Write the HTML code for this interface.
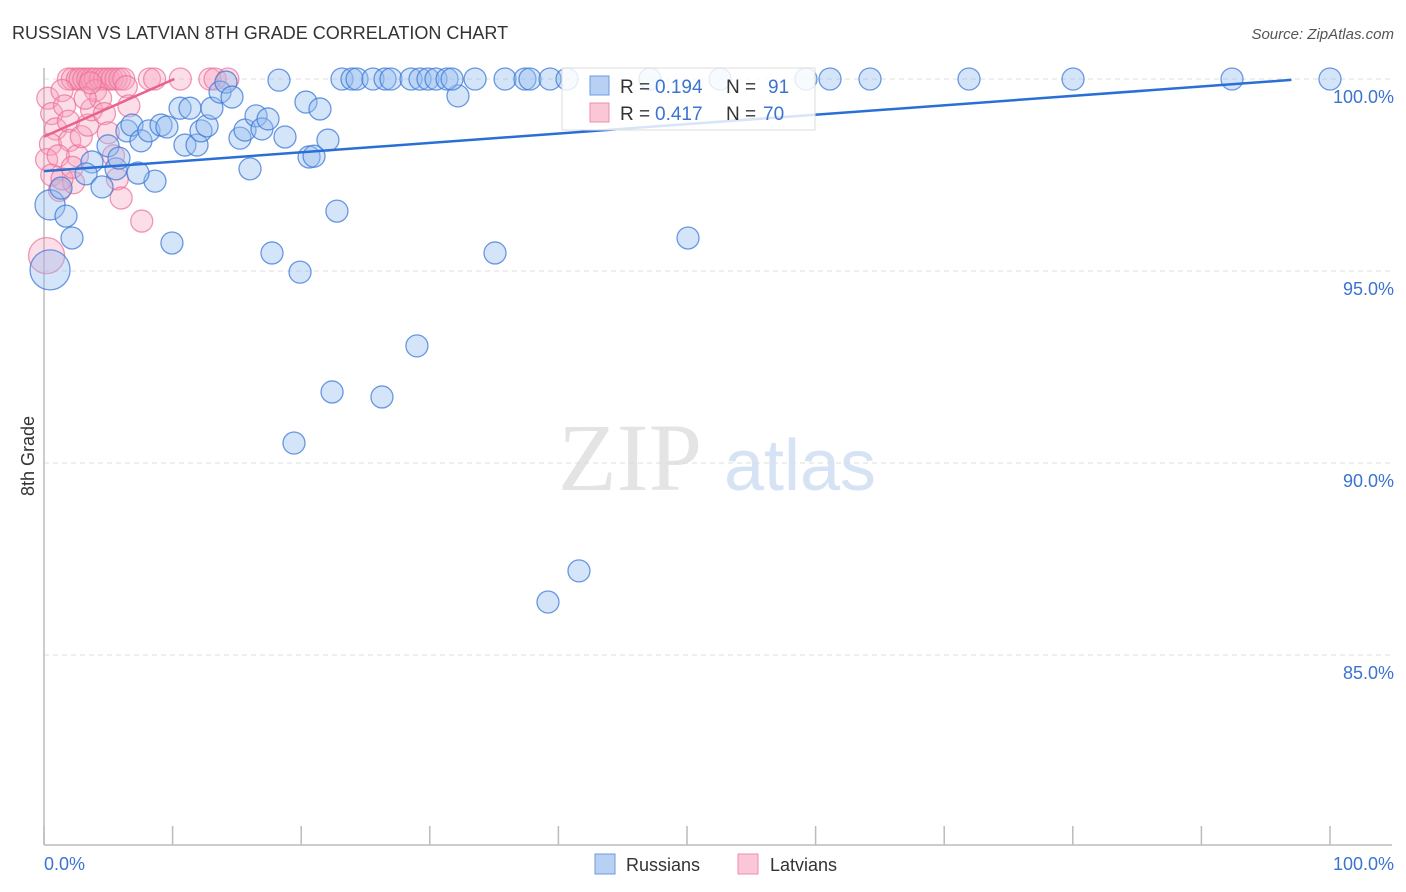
<!DOCTYPE html>
<html><head><meta charset="utf-8"><style>
body{margin:0;background:#fff;font-family:"Liberation Sans",sans-serif;}
svg{display:block}
</style></head><body>
<svg width="1406" height="892" id="chart">
<text x="12" y="39" font-size="18" fill="#333">RUSSIAN VS LATVIAN 8TH GRADE CORRELATION CHART</text>
<text x="1394" y="39" font-size="15" fill="#555" font-style="italic" text-anchor="end">Source: ZipAtlas.com</text>
<text x="630" y="490" font-size="96" fill="#e4e4e4" font-family="Liberation Serif,serif" text-anchor="middle">ZIP</text>
<text x="800" y="490" font-size="72" fill="#d6e3f5" text-anchor="middle">atlas</text>
<text x="34" y="456" font-size="18" fill="#333" transform="rotate(-90 34 456)" text-anchor="middle">8th Grade</text>
<g id="grid"></g>
<line x1="44" y1="68" x2="44" y2="845" stroke="#bbb" stroke-width="1.5"/>
<line x1="44" y1="845" x2="1392" y2="845" stroke="#bbb" stroke-width="1.5"/>
<g id="pts"></g>
<g id="lines"></g>
<text x="44" y="870" font-size="18" fill="#3b73d1">0.0%</text>
<text x="1394" y="870" font-size="18" fill="#3b73d1" text-anchor="end">100.0%</text>
<g>
<rect x="562" y="68" width="253" height="62" fill="#fff" fill-opacity="0.82" stroke="#ddd"/>
<rect x="590" y="76" width="19" height="19" fill="#b7d0f3" stroke="#6a9be0"/>
<rect x="590" y="103" width="19" height="19" fill="#fbc6d6" stroke="#ee8fae"/>
<text x="620" y="93" font-size="19" fill="#333">R =</text>
<text x="655" y="93" font-size="19" fill="#3b73d1">0.194</text>
<text x="726" y="93" font-size="19" fill="#333">N =</text>
<text x="768" y="93" font-size="19" fill="#3b73d1">91</text>
<text x="620" y="120" font-size="19" fill="#333">R =</text>
<text x="655" y="120" font-size="19" fill="#3b73d1">0.417</text>
<text x="726" y="120" font-size="19" fill="#333">N =</text>
<text x="763" y="120" font-size="19" fill="#3b73d1">70</text>
</g>
<g>
<rect x="595" y="854" width="20" height="20" fill="#b7d0f3" stroke="#6a9be0"/>
<text x="626" y="871" font-size="18" fill="#333">Russians</text>
<rect x="738" y="854" width="20" height="20" fill="#fbc6d6" stroke="#ee8fae"/>
<text x="770" y="871" font-size="18" fill="#333">Latvians</text>
</g>
</svg>
<script>
const yTicks=[100,95,90,85];
const xTickVals=[0,10,20,30,40,50,60,70,80,90,100];
const blueX=[0.47,0.47,1.71,2.18,1.32,3.73,3.27,4.51,4.98,5.6,5.83,6.45,6.84,7.54,8.16,8.63,7.31,9.1,9.56,9.95,10.58,10.96,11.35,11.9,12.21,12.68,13.06,13.69,14.15,14.62,15.24,15.63,16.02,16.49,16.95,17.42,17.73,18.27,18.74,19.91,20.37,20.61,21.0,21.46,22.08,22.78,19.44,22.4,26.28,29.0,32.19,35.07,39.19,41.6,50.08,23.17,23.95,24.34,25.58,26.52,26.98,28.54,29.24,29.86,30.48,31.34,31.73,33.52,35.85,37.4,37.79,39.35,40.67,47.12,52.57,59.25,61.12,64.23,71.93,80.02,92.38,100];
const blueY=[95.03,96.72,96.43,95.86,97.16,97.84,97.53,97.19,98.26,97.66,97.94,98.65,98.8,98.39,98.65,97.34,97.55,98.8,98.75,95.73,99.24,98.28,99.24,98.28,98.65,98.78,99.24,99.66,99.92,99.53,98.46,98.67,97.66,99.04,98.7,98.96,95.47,99.97,98.49,94.97,99.4,97.97,97.99,99.22,98.41,96.56,90.52,91.85,91.72,93.05,99.56,95.47,86.38,87.19,95.86,100,100,100,100,100,100,100,100,100,100,100,100,100,100,100,100,100,100,100,100,100,100,100,100,100,100,100];
const blueR=blueX.map((_,i)=>i===0?20:(i===1?15:11));
const pinkX=[1.9,2.2,2.6,2.8,3.1,3.4,3.7,4,4.4,4.7,5,5.3,5.6,5.9,6.2,8.2,8.6,10.6,12.9,13.3,14.3,0.3,0.6,0.9,0.5,0.2,0.6,0.2,1.4,1.6,1.9,2,1.2,2.3,2.6,2.9,3.4,3.7,4,4.4,4.7,5,5.4,5.7,6,6.4,6.6,7.6,1.4,1.1,2.2,3.2,3.6];
const pinkY=[100,100,100,100,100,100,100,100,100,100,100,100,100,100,100,100,100,100,100,100,100,99.5,99.1,98.7,98.3,97.9,97.5,95.4,99.7,99.3,98.9,98.4,97.1,97.3,98,98.5,98.8,99.2,99.7,99.5,99.1,98.6,98,97.4,96.9,99.8,99.3,96.3,97.4,98,97.7,99.5,99.9];
const pinkR=pinkX.map((_,i)=>i===27?18:11);
const blueTrend=[97.6,0.0245];
const pinkTrend=[98.5,0.148];
const X=v=>44+v*12.86, Y=v=>79+(100-v)*38.4;
const NS="http://www.w3.org/2000/svg";
const grid=document.getElementById('grid'),pts=document.getElementById('pts'),lines=document.getElementById('lines'),svg=document.getElementById('chart');
yTicks.forEach(t=>{
const l=document.createElementNS(NS,'line');
l.setAttribute('x1',44);l.setAttribute('x2',1392);l.setAttribute('y1',Y(t));l.setAttribute('y2',Y(t));
l.setAttribute('stroke','#ddd');l.setAttribute('stroke-dasharray','5,4');


grid.appendChild(l);
const tx=document.createElementNS(NS,'text');
tx.setAttribute('x',1394);tx.setAttribute('y',Y(t)+24);tx.setAttribute('text-anchor','end');
tx.setAttribute('font-size','18');tx.setAttribute('fill','#3b73d1');tx.textContent=t.toFixed(1)+'%';


svg.appendChild(tx);
});
xTickVals.forEach(t=>{
const l=document.createElementNS(NS,'line');
l.setAttribute('x1',X(t));l.setAttribute('x2',X(t));l.setAttribute('y1',826);l.setAttribute('y2',845);
l.setAttribute('stroke','#bbb');l.setAttribute('stroke-width','1.5');


grid.appendChild(l);
});
function dots(xs,ys,rs,fill,stroke,name){xs.forEach((x,i)=>{
const c=document.createElementNS(NS,'circle');
c.setAttribute('cx',X(x));c.setAttribute('cy',Y(ys[i]));c.setAttribute('r',rs[i]);
c.setAttribute('fill',fill);c.setAttribute('stroke',stroke);c.setAttribute('stroke-width','1.3');


pts.appendChild(c);});}
dots(pinkX,pinkY,pinkR,'rgba(247,160,188,0.35)','rgba(236,110,150,0.7)','latvian-point');
dots(blueX,blueY,blueR,'rgba(150,190,240,0.4)','rgba(60,120,215,0.75)','russian-point');
function trend(tr,x0,x1,col,name){
let xe=Math.min(x1,(100-tr[0])/tr[1]);
const l=document.createElementNS(NS,'line');
l.setAttribute('x1',X(x0));l.setAttribute('y1',Y(tr[0]+tr[1]*x0));
l.setAttribute('x2',X(xe));l.setAttribute('y2',Y(tr[0]+tr[1]*xe));
l.setAttribute('stroke',col);l.setAttribute('stroke-width','2.5');


lines.appendChild(l);
}
trend(blueTrend,0,97,'#2a6fd6','russian-trend-line');
trend(pinkTrend,0,10.2,'#e8628c','latvian-trend-line');
</script>
</body></html>
